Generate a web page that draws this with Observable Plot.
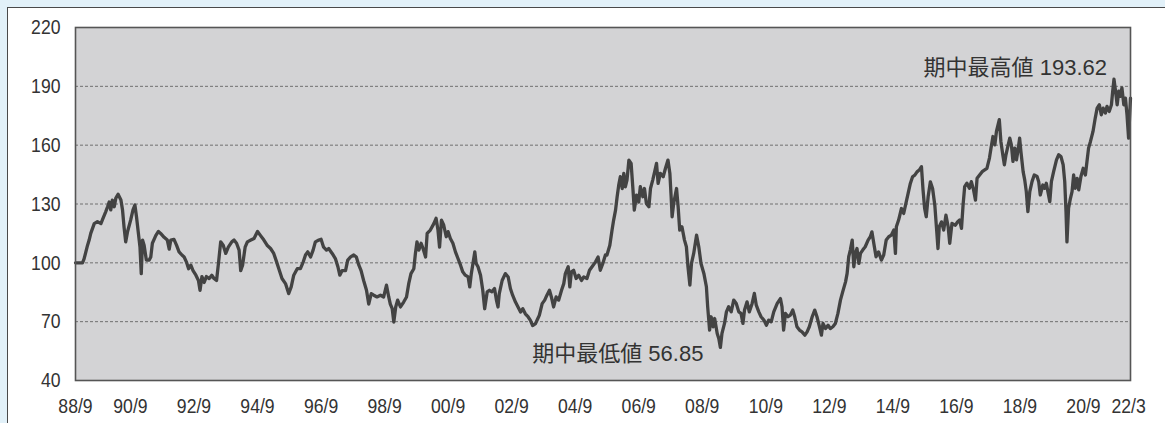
<!DOCTYPE html>
<html>
<head>
<meta charset="utf-8">
<script src="https://cdn.jsdelivr.net/npm/d3@7"></script>
<script src="https://cdn.jsdelivr.net/npm/@observablehq/plot@0.6"></script>
<style>
  html, body { margin: 0; padding: 0; }
  body { width: 1165px; height: 423px; background: #e2f1f9; position: relative; overflow: hidden; }
  #panel { position: absolute; left: 7px; top: 7px; width: 1170px; height: 430px; background: #ffffff; border-left: 1.5px solid #4a4a4a; border-top: 1.5px solid #4a4a4a; }
  #chart { position: absolute; left: 0; top: 0; }
</style>
</head>
<body>
<div id="panel"></div>
<div id="chart"></div>
<script>
// Index value (base 100) by time in decimal years
const s1989_1994 = [[1989.02,100],[1989.24,100],[1989.29,102],[1989.40,109],[1989.45,111.6],[1989.50,115],[1989.61,120],[1989.71,121],[1989.82,120],[1989.87,122],[1989.97,126],[1990.03,128.6],[1990.08,131],[1990.13,127],[1990.18,132],[1990.24,128.6],[1990.29,133],[1990.36,135],[1990.45,132],[1990.50,127],[1990.55,118],[1990.60,110.7],[1990.66,116],[1990.76,122],[1990.83,127],[1990.89,129.5],[1990.94,123.5],[1991.00,115],[1991.05,108],[1991.09,94.5],[1991.13,111.6],[1991.18,109],[1991.25,101.4],[1991.34,101.4],[1991.39,103],[1991.44,110],[1991.55,114],[1991.63,116],[1991.70,115],[1991.81,113],[1991.91,111.6],[1991.97,107],[1992.02,111.6],[1992.12,112],[1992.20,109],[1992.28,105.6],[1992.37,104],[1992.44,103],[1992.51,100.5],[1992.58,97],[1992.65,98.8],[1992.72,96],[1992.81,93.7],[1992.89,91],[1992.94,86],[1993.00,93],[1993.07,90],[1993.14,93],[1993.23,92],[1993.31,93.7],[1993.38,92],[1993.46,91],[1993.52,99.7],[1993.59,110.7],[1993.67,109],[1993.75,104.8],[1993.83,108],[1993.94,110.7],[1994.01,111.6],[1994.09,110],[1994.17,106.5],[1994.22,96],[1994.28,98.8],[1994.36,108],[1994.43,110.7],[1994.54,111.6],[1994.64,112.4],[1994.75,116]];
const s1994_2000 = [[1994.84,114],[1994.95,111.6],[1995.05,109],[1995.16,107.3],[1995.26,104.8],[1995.35,100.5],[1995.42,97],[1995.52,92],[1995.63,89.4],[1995.73,84.3],[1995.81,87.7],[1995.89,93.7],[1996.00,97],[1996.10,97],[1996.19,100.5],[1996.26,104],[1996.33,105.6],[1996.42,103],[1996.50,106.5],[1996.57,110.7],[1996.68,111.6],[1996.75,112],[1996.83,108],[1996.92,106.5],[1996.99,107.3],[1997.10,104.8],[1997.20,102.2],[1997.28,98],[1997.34,93.7],[1997.41,96],[1997.52,96],[1997.59,101.4],[1997.68,103],[1997.78,104],[1997.86,103],[1997.94,98.8],[1998.01,96],[1998.09,91],[1998.18,86],[1998.25,79],[1998.33,84.3],[1998.41,83.5],[1998.51,82.6],[1998.62,83.5],[1998.72,82.6],[1998.81,88.6],[1998.88,82.6],[1998.93,79],[1998.99,76.6],[1999.04,69.8],[1999.10,77.5],[1999.16,81],[1999.25,77.5],[1999.35,80],[1999.44,82.6],[1999.51,89.4],[1999.58,94.5],[1999.67,97],[1999.72,104.8],[1999.77,110.7],[1999.83,106.5],[1999.90,110],[1999.96,107.3],[2000.04,103],[2000.09,115],[2000.19,116.7]];
const s2000_2005 = [[2000.30,120],[2000.37,122.7],[2000.43,116.7],[2000.48,108],[2000.54,121.8],[2000.61,119.3],[2000.69,113.3],[2000.75,115.9],[2000.82,112.4],[2000.90,110],[2000.98,105.6],[2001.06,102.2],[2001.14,98.8],[2001.21,95.4],[2001.29,93.7],[2001.38,92.8],[2001.43,87.7],[2001.48,94.5],[2001.54,100.5],[2001.59,105.6],[2001.63,99.7],[2001.69,98],[2001.77,93.7],[2001.84,86],[2001.90,76.6],[2001.98,85.2],[2002.05,86],[2002.13,85.2],[2002.21,86.9],[2002.27,81],[2002.32,77.5],[2002.36,84.3],[2002.45,91],[2002.55,94.5],[2002.64,92.8],[2002.71,86.9],[2002.78,83.5],[2002.87,80],[2002.95,77.5],[2003.03,74.9],[2003.10,76.6],[2003.18,74],[2003.27,72.4],[2003.34,70.7],[2003.41,68],[2003.50,69],[2003.57,71.5],[2003.62,73.2],[2003.71,79.2],[2003.79,81],[2003.86,83.5],[2003.94,86],[2004.00,82.6],[2004.07,77.5],[2004.15,82.6],[2004.23,81],[2004.32,86],[2004.39,89.4],[2004.44,94.5],[2004.53,98],[2004.58,87.7],[2004.63,95.4],[2004.70,96.2],[2004.78,92],[2004.86,93.7],[2004.95,91],[2005.02,92.8],[2005.12,92],[2005.20,96.2],[2005.28,98],[2005.39,100.5],[2005.47,103],[2005.54,96.2],[2005.62,99.7],[2005.70,104]];
const s2005_2011 = [[2005.75,104],[2005.84,109],[2005.91,116.7],[2005.96,121.8],[2006.02,126.9],[2006.07,133.7],[2006.12,139.6],[2006.17,143.9],[2006.23,137.9],[2006.28,145.6],[2006.33,138.8],[2006.38,142.2],[2006.44,152.4],[2006.51,150.7],[2006.57,137],[2006.61,126.9],[2006.68,134.5],[2006.75,131],[2006.80,138.8],[2006.88,133.7],[2006.93,137.9],[2006.99,130.3],[2007.07,128.6],[2007.12,137.9],[2007.19,142.2],[2007.25,146.4],[2007.31,150.7],[2007.36,140.5],[2007.43,145.6],[2007.52,143.9],[2007.59,148.1],[2007.67,152.4],[2007.73,145.6],[2007.77,133.7],[2007.80,123.5],[2007.85,130.3],[2007.94,137.9],[2007.99,128.6],[2008.04,116.7],[2008.11,118.4],[2008.19,111.6],[2008.25,108.2],[2008.30,98],[2008.36,88.6],[2008.41,99.7],[2008.48,104.8],[2008.57,114.1],[2008.64,108.2],[2008.71,99.7],[2008.80,94.6],[2008.88,87.8],[2008.92,77.6],[2008.98,65.7],[2009.03,72.5],[2009.09,67.4],[2009.14,71.6],[2009.22,64],[2009.27,61.4],[2009.32,56.85],[2009.37,64],[2009.45,69.1],[2009.51,75],[2009.58,77.6],[2009.66,75],[2009.74,81],[2009.82,79.3],[2009.90,75],[2009.97,74.2],[2010.03,69.1],[2010.08,75.9],[2010.16,80.1],[2010.23,75],[2010.32,79.3],[2010.39,84.4],[2010.45,78.4],[2010.53,75],[2010.60,72.5],[2010.69,70.8],[2010.77,68.2],[2010.84,70.8],[2010.92,69.9],[2011.00,75],[2011.11,79.3],[2011.21,81.8]];
const s2011_2016 = [[2011.26,77.6],[2011.31,65.7],[2011.37,74.2],[2011.45,72.5],[2011.52,73.3],[2011.60,75.9],[2011.66,72.5],[2011.73,67.4],[2011.81,65.7],[2011.89,64.8],[2011.98,63.1],[2012.05,64.8],[2012.12,67.4],[2012.21,72.5],[2012.29,75.9],[2012.36,72.5],[2012.44,67.4],[2012.50,63.1],[2012.55,69.1],[2012.63,66.5],[2012.71,68.2],[2012.78,66.5],[2012.86,67.4],[2012.94,69.1],[2013.02,74.2],[2013.10,81],[2013.17,85.2],[2013.26,90.3],[2013.31,94.6],[2013.36,103.1],[2013.41,106.5],[2013.47,111.6],[2013.52,98],[2013.57,104.8],[2013.62,107.3],[2013.68,99.7],[2013.73,104.8],[2013.80,106.5],[2013.88,108.2],[2013.97,111.6],[2014.04,113.3],[2014.09,115.8],[2014.15,109.9],[2014.22,103.1],[2014.30,105.6],[2014.39,101.4],[2014.46,103.9],[2014.54,111.6],[2014.62,113.3],[2014.70,114.1],[2014.78,116.7],[2014.83,104.8],[2014.86,118.4],[2014.93,121.8],[2015.02,127.7],[2015.09,125.2],[2015.16,130.3],[2015.23,135.4],[2015.30,140.5],[2015.37,143.9],[2015.44,144.7],[2015.51,146.4],[2015.58,147.3],[2015.65,149],[2015.70,137.1],[2015.75,127.7],[2015.80,123.5],[2015.86,133.7],[2015.93,141.3],[2016.00,137.9],[2016.07,129.4],[2016.12,118.4],[2016.17,107.3],[2016.21,118.4],[2016.28,120.9],[2016.35,116.7],[2016.42,124.3],[2016.49,118.4],[2016.54,109.9],[2016.61,120.1],[2016.72,119.2]];
const s2016_2022 = [[2016.79,121],[2016.85,121.8],[2016.91,117.6],[2016.96,129.5],[2017.01,138.9],[2017.08,140.6],[2017.16,138],[2017.22,141.4],[2017.29,137.2],[2017.35,132],[2017.40,143.1],[2017.48,144.8],[2017.56,146.5],[2017.64,147.4],[2017.71,148.2],[2017.79,153.4],[2017.84,158.5],[2017.90,164.4],[2017.96,160.2],[2018.01,167],[2018.06,170.4],[2018.10,173],[2018.15,161.9],[2018.21,155.1],[2018.26,150],[2018.31,155.1],[2018.38,160.2],[2018.43,163.6],[2018.48,160.2],[2018.53,151.7],[2018.59,158.5],[2018.64,152.5],[2018.69,157.6],[2018.74,163.6],[2018.78,156.8],[2018.85,146.5],[2018.90,142.3],[2018.95,136.3],[2019.00,126.1],[2019.06,136.3],[2019.13,141.4],[2019.20,144.8],[2019.29,144],[2019.34,141.4],[2019.39,134.6],[2019.47,139.7],[2019.53,138],[2019.58,140.6],[2019.63,136.3],[2019.69,131.2],[2019.74,141.4],[2019.81,146.5],[2019.90,152.5],[2019.97,155.1],[2020.04,154.2],[2020.11,150],[2020.16,141.4],[2020.20,126.1],[2020.23,110.7],[2020.28,127.8],[2020.34,132.9],[2020.39,136.3],[2020.44,144.8],[2020.49,138],[2020.55,143.1],[2020.60,137.2],[2020.67,144],[2020.74,148.2],[2020.81,144.8],[2020.86,151.7],[2020.91,158.5],[2020.97,161.9],[2021.05,167],[2021.12,173.8],[2021.18,178.9],[2021.25,180.6],[2021.31,175.5],[2021.37,178.9],[2021.44,176.4],[2021.49,179.8],[2021.56,177.2],[2021.63,180.6],[2021.67,187.5],[2021.71,193.62],[2021.76,187.5],[2021.81,180.6],[2021.86,187.5],[2021.91,184.9],[2021.96,189.2],[2022.02,180.6],[2022.07,184],[2022.12,175.5],[2022.17,163.6],[2022.23,184]];

const yTicks = [40, 70, 100, 130, 160, 190, 220];
const gridValues = [70, 100, 130, 160, 190];
const xTickYears = [1989.02, 1990.75, 1992.75, 1994.75, 1996.75, 1998.75, 2000.75, 2002.75, 2004.75, 2006.75, 2008.75, 2010.75, 2012.75, 2014.75, 2016.75, 2018.75, 2020.75, 2022.17];
const xTickLabels = ["88/9","90/9","92/9","94/9","96/9","98/9","00/9","02/9","04/9","06/9","08/9","10/9","12/9","14/9","16/9","18/9","20/9","22/3"];
const lowLabel = "期中最低値 56.85";
const highLabel = "期中最高値 193.62";

const series = [s1989_1994, s1994_2000, s2000_2005, s2005_2011, s2011_2016, s2016_2022]
  .flat().map(([t, v]) => ({t, v}));
const lowPt = d3.least(series, d => d.v);
const highPt = d3.greatest(series, d => d.v);
const tickLabelMap = new Map(xTickYears.map((d, i) => [d, xTickLabels[i]]));

const numFont = "'Liberation Sans Narrow', 'Arial Narrow', 'Liberation Sans', Arial, sans-serif";
const annoFont = "'Liberation Sans', Arial, 'Noto Sans CJK JP', sans-serif";

const chart = Plot.plot({
  width: 1165,
  height: 423,
  marginLeft: 75,
  marginRight: 35,
  marginTop: 27,
  marginBottom: 43,
  style: { background: "transparent", fontFamily: numFont, fontSize: "21px", color: "#333" },
  x: { type: "linear", domain: [series[0].t, series[series.length - 1].t], label: null },
  y: { domain: [40, 220], label: null },
  marks: [
    Plot.frame({ fill: "#d3d3d5" }),
    Plot.ruleY(gridValues, { stroke: "#707070", strokeWidth: 1, strokeDasharray: "3,2" }),
    Plot.line(series, { x: "t", y: "v", stroke: "#434343", strokeWidth: 3.3, strokeLinejoin: "round" }),
    Plot.frame({ stroke: "#555", strokeWidth: 1.6 }),
    Plot.axisY(yTicks, { tickSize: 0, tickPadding: 15, fontSize: 21, fill: "#333", label: null }),
    Plot.axisX(xTickYears, { tickSize: 0, tickPadding: 18, fontSize: 21, fill: "#333", label: null, tickFormat: d => tickLabelMap.get(d) }),
    Plot.text([lowPt], { x: "t", y: "v", text: () => lowLabel, textAnchor: "end", dx: -17, dy: 6, fontSize: 22, fill: "#333", fontFamily: annoFont }),
    Plot.text([highPt], { x: "t", y: "v", text: () => highLabel, textAnchor: "end", dx: -7, dy: -11, fontSize: 22, fill: "#333", fontFamily: annoFont })
  ]
});
document.getElementById("chart").appendChild(chart);

// Condense the tick-label digits horizontally (narrow face as in the original)
d3.select(chart).selectAll('g[aria-label$="tick label"] text').each(function () {
  const el = d3.select(this);
  const tr = el.attr("transform");
  if (tr) {
    el.attr("transform", tr + " scale(0.84,1)");
  } else {
    const x = +el.attr("x") || 0, y = +el.attr("y") || 0;
    el.attr("x", null).attr("y", null).attr("transform", `translate(${x},${y}) scale(0.84,1)`);
  }
});
</script>
</body>
</html>
